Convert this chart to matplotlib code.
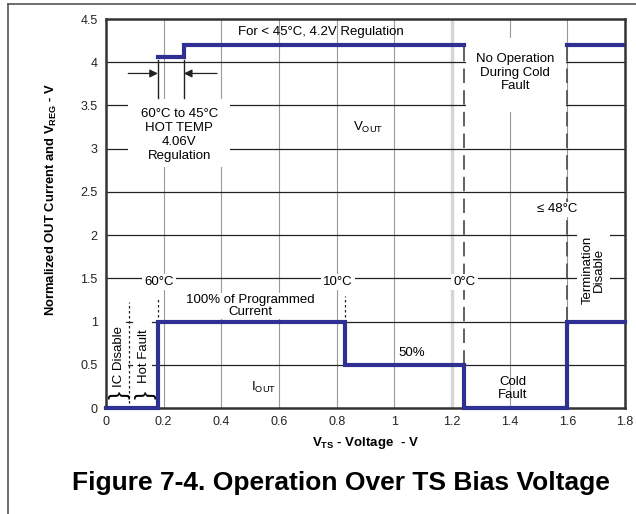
import numpy as np
import matplotlib.pyplot as plt
from matplotlib.patches import Rectangle

plt.rcParams['font.family'] = ['Liberation Sans', 'DejaVu Sans']

# step curves (x breakpoints, y levels)
vout_x1 = [0.18, 0.27, 0.27, 1.24]
vout_y1 = [4.06, 4.06, 4.2, 4.2]
vout_x2 = [1.6, 1.8]
vout_y2 = [4.2, 4.2]
iout_x = [0.0, 0.18, 0.18, 0.83, 0.83, 1.24, 1.24, 1.6, 1.6, 1.8]
iout_y = [0.0, 0.0, 1.0, 1.0, 0.5, 0.5, 0.0, 0.0, 1.0, 1.0]

xticks = [0, 0.2, 0.4, 0.6, 0.8, 1, 1.2, 1.4, 1.6, 1.8]
yticks = [0, 0.5, 1, 1.5, 2, 2.5, 3, 3.5, 4, 4.5]

BLUE = '#2e3192'
WB = dict(facecolor='white', edgecolor='none', pad=1.5)

fig = plt.figure(figsize=(6.36, 5.14), dpi=100)
ax = fig.add_axes([0.1667, 0.2062, 0.8160, 0.7568])

# frame around whole figure (left and top only, like the cropped page)
fig.add_artist(plt.Line2D([0.0126, 0.0126], [0, 0.992], transform=fig.transFigure, color='#555555', lw=1.2))
fig.add_artist(plt.Line2D([0.0126, 1.0], [0.992, 0.992], transform=fig.transFigure, color='#555555', lw=1.2))

ax.set_xlim(0, 1.8)
ax.set_ylim(0, 4.5)
ax.set_xticks(xticks)
ax.set_xticklabels(['0', '0.2', '0.4', '0.6', '0.8', '1', '1.2', '1.4', '1.6', '1.8'])
ax.set_yticks(yticks)
ax.set_yticklabels(['0', '0.5', '1', '1.5', '2', '2.5', '3', '3.5', '4', '4.5'])
ax.tick_params(length=0, labelsize=9, pad=6, colors='#222222')
for s in ax.spines.values():
    s.set_linewidth(1.8)
    s.set_color('#333333')

for x in xticks[1:-1]:
    if x == 1.2:
        ax.axvline(x, color='#d6d6d6', lw=2.5, zorder=0)
    else:
        ax.axvline(x, color='#999999', lw=0.8, zorder=0)
for y in yticks[1:-1]:
    ax.axhline(y, color='#222222', lw=0.9, zorder=0)

# white panels that blank the grid behind the annotation blocks
for (x0, y0, w, h) in [(0.077, 2.79, 0.353, 0.78), (1.247, 3.42, 0.348, 0.86), (0.004, 0.02, 0.168, 1.18)]:
    ax.add_patch(Rectangle((x0, y0), w, h, facecolor='white', edgecolor='none', zorder=1))

# curves
ax.plot(vout_x1, vout_y1, color=BLUE, lw=3, solid_joinstyle='miter', zorder=3)
ax.plot(vout_x2, vout_y2, color=BLUE, lw=3, zorder=3)
ax.plot(iout_x, iout_y, color=BLUE, lw=3, solid_joinstyle='miter', zorder=3, clip_on=False)

# dashed boundaries
for x in [1.24, 1.6]:
    ax.plot([x, x], [0, 4.2], color='#555555', lw=1.3, ls=(0, (8, 4)), zorder=2)
ax.plot([0.08, 0.08], [0, 1.23], color='#222222', lw=0.9, ls=(0, (2, 2)), zorder=2)
ax.plot([0.18, 0.18], [1.0, 1.29], color='#222222', lw=0.9, ls=(0, (2, 2)), zorder=2)
ax.plot([0.83, 0.83], [1.0, 1.3], color='#222222', lw=0.9, ls=(0, (2, 2)), zorder=2)
ax.plot([0.07, 0.09], [1.0, 1.0], color='#222222', lw=0.9, zorder=2)
ax.plot([0.07, 0.09], [0.5, 0.5], color='#222222', lw=0.9, zorder=2)
ax.plot([0.16, 0.18], [1.0, 1.0], color='#222222', lw=0.9, zorder=2)
ax.plot([0.16, 0.18], [0.5, 0.5], color='#222222', lw=0.9, zorder=2)

# hot temp window markers
ax.plot([0.18, 0.18], [3.59, 4.03], color='#222222', lw=1.0, zorder=2)
ax.plot([0.27, 0.27], [3.59, 4.03], color='#222222', lw=1.0, zorder=2)
ax.annotate('', xy=(0.18, 3.87), xytext=(0.077, 3.87),
            arrowprops=dict(arrowstyle='-|>', color='#222222', lw=0.9, mutation_scale=12, shrinkA=0, shrinkB=0))
ax.annotate('', xy=(0.27, 3.87), xytext=(0.385, 3.87),
            arrowprops=dict(arrowstyle='-|>', color='#222222', lw=0.9, mutation_scale=12, shrinkA=0, shrinkB=0))

fs = 9.5
ax.text(0.254, 3.16, '60°C to 45°C\nHOT TEMP\n4.06V\nRegulation', ha='center', va='center',
        fontsize=fs, linespacing=1.2, zorder=4)
ax.text(0.745, 4.35, 'For < 45°C, 4.2V Regulation', ha='center', va='center', fontsize=fs, zorder=4)
ax.text(1.42, 3.88, 'No Operation\nDuring Cold\nFault', ha='center', va='center', fontsize=fs,
        linespacing=1.15, zorder=4)
ax.text(0.91, 3.24, r'V$_{\mathregular{OUT}}$', ha='center', va='center', fontsize=fs, zorder=4)
ax.text(1.566, 2.3, '≤ 48°C', ha='center', va='center', fontsize=fs,
        bbox=dict(facecolor='white', edgecolor='none', pad=1), zorder=4)
ax.text(1.69, 1.6, 'Termination\nDisable', ha='center', va='center', rotation=90, fontsize=fs,
        linespacing=1.0, bbox=dict(facecolor='white', edgecolor='none', pad=3), zorder=4)
ax.text(0.184, 1.46, '60°C', ha='center', va='center', fontsize=fs, bbox=WB, zorder=4)
ax.text(0.805, 1.46, '10°C', ha='center', va='center', fontsize=fs, bbox=WB, zorder=4)
ax.text(1.243, 1.46, '0°C', ha='center', va='center', fontsize=fs, bbox=WB, zorder=4)
ax.text(0.5, 1.18, '100% of Programmed\nCurrent', ha='center', va='center', fontsize=fs,
        linespacing=1.0, bbox=dict(facecolor='white', edgecolor='none', pad=1), zorder=4)
ax.text(1.06, 0.64, '50%', ha='center', va='center', fontsize=fs, zorder=4)
ax.text(1.41, 0.23, 'Cold\nFault', ha='center', va='center', fontsize=fs, linespacing=1.1, zorder=4)
ax.text(0.545, 0.24, r'I$_{\mathregular{OUT}}$', ha='center', va='center', fontsize=fs, zorder=4)
ax.text(0.045, 0.6, 'IC Disable', ha='center', va='center', rotation=90, fontsize=fs,
        bbox=dict(facecolor='white', edgecolor='none', pad=2), zorder=4)
ax.text(0.13, 0.6, 'Hot Fault', ha='center', va='center', rotation=90, fontsize=fs,
        bbox=dict(facecolor='white', edgecolor='none', pad=2), zorder=4)
ax.text(0.04, 0.15, '{', ha='center', va='center', rotation=-90, fontsize=17, zorder=4)
ax.text(0.13, 0.15, '{', ha='center', va='center', rotation=-90, fontsize=17, zorder=4)

ax.set_xlabel(r'V$_{\mathregular{TS}}$ - Voltage  - V', fontsize=9.5, fontweight='bold', labelpad=5)
ax.set_ylabel(r'Normalized OUT Current and V$_{\mathregular{REG}}$ - V', fontsize=9.4,
              fontweight='bold')
ax.yaxis.set_label_coords(-0.09, 0.535)

fig.text(0.536, 0.06, 'Figure 7-4. Operation Over TS Bias Voltage', ha='center', va='center',
         fontsize=19, fontweight='bold')

fig.savefig('out.png', dpi=100)
